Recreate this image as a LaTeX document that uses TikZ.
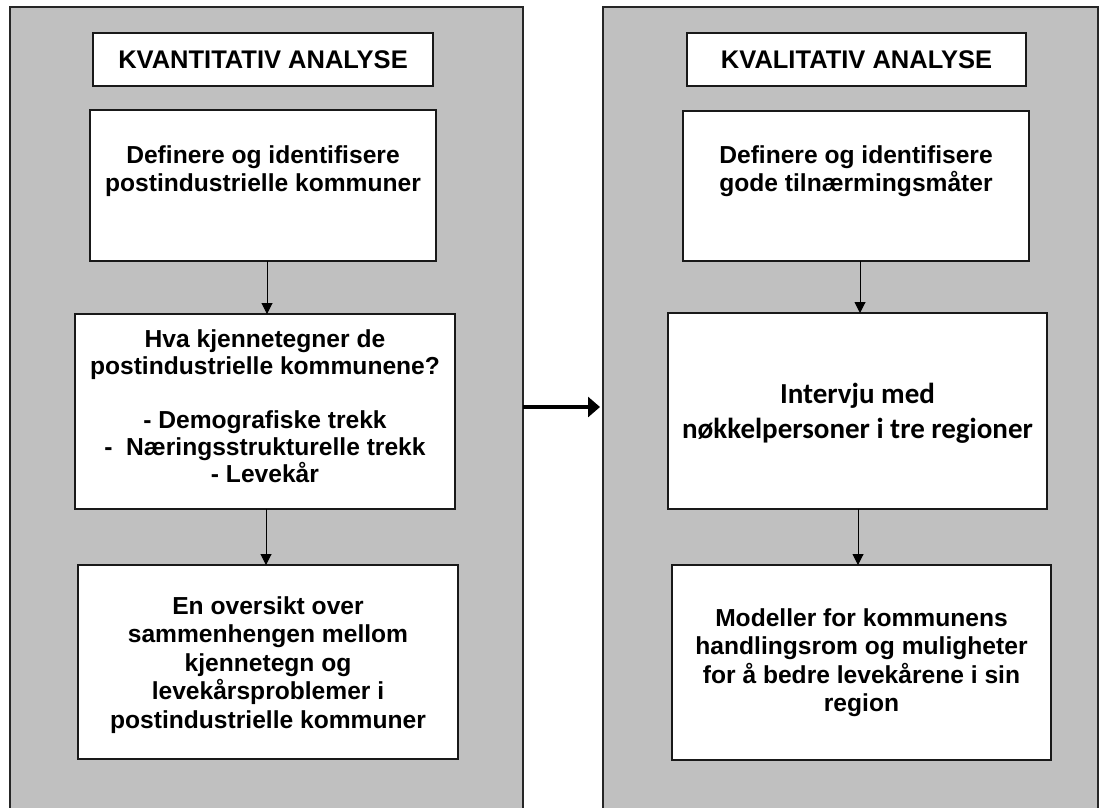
\documentclass[tikz,border=0pt]{standalone}
\usepackage{fontspec}
\setmainfont{Liberation Sans}
\newfontfamily\calibfont{Carlito}
\usetikzlibrary{arrows.meta,calc}
\definecolor{panelgray}{HTML}{C0C0C0}
\tikzset{
  panel/.style={draw=black!85, line width=1.5pt, fill=panelgray, anchor=north west, inner sep=0pt, outer sep=0pt},
  box/.style={draw=black!90, line width=1.5pt, fill=white, anchor=north west, inner sep=0pt, outer sep=0pt},
  txt/.style={align=center, inner sep=0pt, font=\bfseries\fontsize{24.6}{28.5}\selectfont},
  ttl/.style={align=center, inner sep=0pt, font=\bfseries\fontsize{25.5}{28.5}\selectfont},
  arr/.style={line width=1pt, -{Triangle[width=11pt,length=11pt]}},
  bigarr/.style={line width=3.5pt, -{Triangle[width=20pt,length=12pt]}}
}
\begin{document}
\begin{tikzpicture}[x=1pt,y=-1pt]
\useasboundingbox (0,0) rectangle (1107,807);
\clip (0,0) rectangle (1107,807);
% panels
\node[panel, minimum width=513pt, minimum height=830pt] (lp) at (10,7) {};
\node[panel, minimum width=495pt, minimum height=830pt] (rp) at (603,7) {};
% titles
\node[box, minimum width=340pt, minimum height=53pt] (lt) at (93,33) {};
\node[ttl] at (lt.center) {KVANTITATIV ANALYSE};
\node[box, minimum width=339pt, minimum height=53pt] (rt) at (687,33) {};
\node[ttl] at (rt.center) {KVALITATIV ANALYSE};
% left column
\node[box, minimum width=346pt, minimum height=151pt] (lb1) at (90,110) {};
\node[txt] (lt1) at ($(lb1.north)!0.405!(lb1.south)$) {Definere og identifisere\\postindustrielle kommuner};
\node[box, minimum width=380pt, minimum height=195pt] (lb2) at (75,314) {};
\node[txt, font=\bfseries\fontsize{24.6}{27}\selectfont] (lt2) at ($(lb2.north)!0.474!(lb2.south)$) {Hva kjennetegner de\\postindustrielle kommunene?\\[27pt]- Demografiske trekk\\-\ \ Næringsstrukturelle trekk\\- Levekår};
\node[box, minimum width=380pt, minimum height=194pt] (lb3) at (78,565) {};
\node[txt] (lt3) at ($(lb3.north)!0.515!(lb3.south)$) {En oversikt over\\sammenhengen mellom\\kjennetegn og\\levekårsproblemer i\\postindustrielle kommuner};
% right column
\node[box, minimum width=346pt, minimum height=150pt] (rb1) at (683,111) {};
\node[txt] (rt1) at ($(rb1.north)!0.40!(rb1.south)$) {Definere og identifisere\\gode tilnærmingsmåter};
\node[box, minimum width=379pt, minimum height=196pt] (rb2) at (668,313) {};
\node[txt, font=\calibfont\bfseries\fontsize{29}{35}\selectfont] (rt2) at ($(rb2.north)!0.51!(rb2.south)$) {Intervju med\\nøkkelpersoner i tre regioner};
\node[box, minimum width=379pt, minimum height=195pt] (rb3) at (672,565) {};
\node[txt] (rt3) at ($(rb3.north)!0.50!(rb3.south)$) {Modeller for kommunens\\handlingsrom og muligheter\\for å bedre levekårene i sin\\region};
% arrow guide coordinates
\coordinate (la) at (267,0);
\coordinate (lb) at (266,0);
\coordinate (ra) at (860,0);
\coordinate (rb) at (858,0);
\coordinate (mid) at (0,407);
% arrows
\draw[arr] (lb1.south -| la) -- (lb2.north -| la);
\draw[arr] (lb2.south -| lb) -- (lb3.north -| lb);
\draw[arr] (rb1.south -| ra) -- (rb2.north -| ra);
\draw[arr] (rb2.south -| rb) -- (rb3.north -| rb);
\draw[bigarr, shorten >=3pt] (lp.east |- mid) -- (rp.west |- mid);
\end{tikzpicture}
\end{document}
